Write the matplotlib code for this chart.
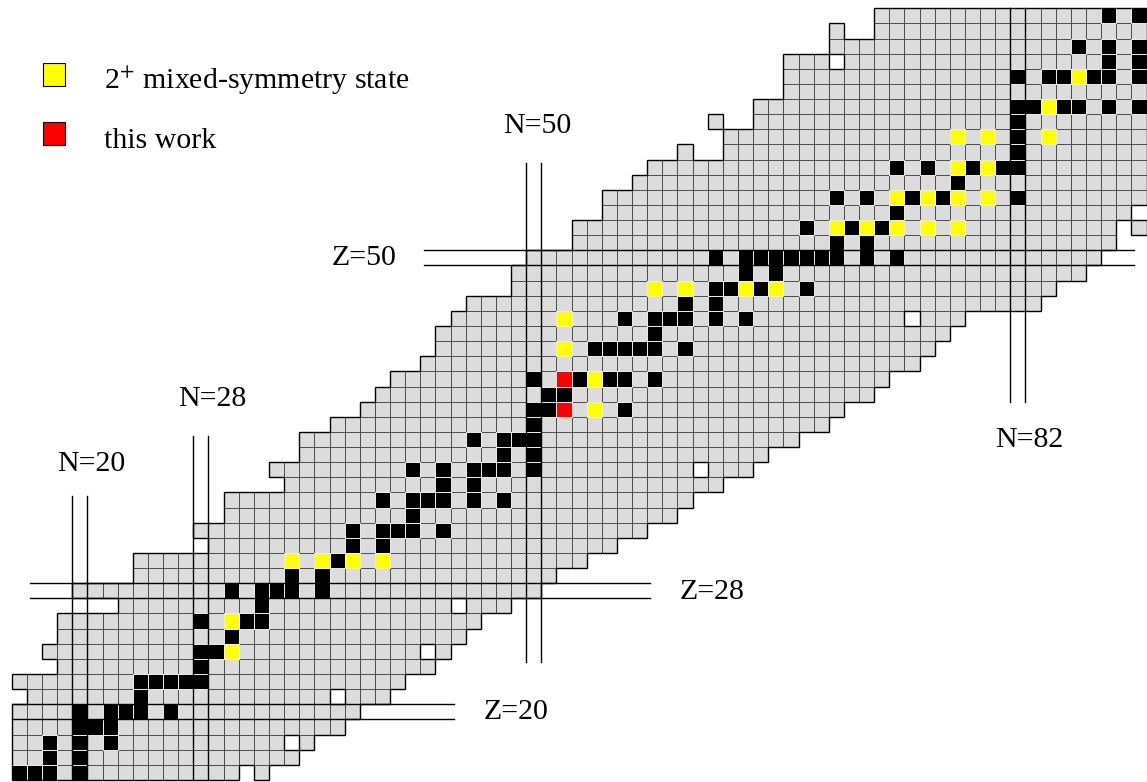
import matplotlib
matplotlib.use('Agg')
import matplotlib.pyplot as plt
from matplotlib.patches import Rectangle
from matplotlib.collections import PatchCollection, LineCollection

plt.rcParams['font.family'] = ['Liberation Serif', 'DejaVu Serif']
plt.rcParams['mathtext.fontset'] = 'stix'

# rows of the nuclide chart: proton number Z, first and last neutron number N
Z_rows = list(range(16, 67))
N_first = [16, 16, 16, 16, 16, 17, 16, 19, 18, 19, 19, 23, 20, 24, 24, 29, 28,
           30, 30, 34, 33, 35, 35, 37, 39, 40, 41, 43, 44, 44, 45, 46, 49, 49,
           50, 53, 53, 55, 55, 57, 58, 60, 63, 62, 65, 67, 67, 67, 70, 70, 73]
N_last = [32, 34, 35, 37, 38, 40, 41, 43, 44, 45, 46, 48, 50, 51, 53, 55, 57,
          59, 60, 62, 64, 65, 67, 69, 70, 72, 73, 75, 76, 77, 78, 83, 84, 86,
          87, 88, 90, 89, 90, 90, 90, 90, 90, 90, 90, 90, 90, 90, 90, 90, 90]
# (Z, N) cells missing inside a row
holes = [(16, 31), (18, 34), (21, 37), (24, 43), (27, 45), (36, 61), (46, 75),
         (52, 89), (57, 61), (57, 62), (59, 63), (59, 64), (63, 70), (65, 71),
         (65, 72)]

# stable nuclei (black), N values per Z
stable = {
    16: [16, 17, 18, 20], 17: [18, 20], 18: [18, 20, 22], 19: [20, 21, 22],
    20: [20, 22, 23, 24, 26], 21: [24], 22: [24, 25, 26, 27, 28], 23: [28],
    24: [28, 29], 25: [30], 26: [28, 31, 32], 27: [32],
    28: [30, 32, 33, 34, 36], 29: [34, 36], 30: [37], 31: [38, 40],
    32: [38, 40, 41, 42, 44], 33: [42], 34: [40, 42, 43, 44, 46, 48],
    35: [44, 46], 36: [42, 44, 46, 47, 48, 50], 37: [48, 50],
    38: [46, 48, 49, 50], 39: [50], 40: [50, 51, 56], 41: [51, 52],
    42: [50, 53, 55, 56, 58], 44: [54, 55, 56, 57, 58, 60], 45: [58],
    46: [56, 58, 59, 60, 62, 64], 47: [60, 62], 48: [62, 63, 65, 68],
    49: [64, 66], 50: [62, 64, 65, 66, 67, 68, 69, 70, 72, 74], 51: [70, 72],
    52: [68, 71, 73], 53: [74], 54: [70, 72, 75, 77, 82], 55: [78],
    56: [74, 76, 79, 81, 82], 57: [82], 58: [82], 59: [82],
    60: [82, 83, 85, 86, 88, 90], 62: [82, 84, 85, 87, 88, 90], 63: [88, 90],
    64: [86, 88, 90], 66: [88, 90],
}

# 2+ mixed-symmetry states (yellow) and this work (red), (Z, N)
mixed_symmetry = [(24, 30), (26, 30), (30, 34), (30, 36), (30, 38), (30, 40),
                  (40, 54), (42, 54), (44, 52), (46, 52), (48, 58), (48, 60),
                  (48, 64), (48, 66), (52, 70), (52, 72), (52, 74), (52, 76),
                  (52, 78), (54, 74), (54, 76), (54, 78), (54, 80), (56, 78),
                  (56, 80), (58, 78), (58, 80), (58, 84), (60, 84), (62, 86)]
this_work = [(40, 52), (42, 52)]

magic_N = [20, 28, 50, 82]
magic_Z = [20, 28, 50]

# ---- pixel <-> chart coordinates of the original picture ----
X0, Y0, S = 72.3, 719.4, 15.13


def px(x):
    return 20 + (x - X0) / S


def pz(y):
    return 20 + (Y0 - y) / S


fig = plt.figure(figsize=(11.47, 7.82), dpi=100)
ax = fig.add_axes([0, 0, 1, 1])
ax.set_xlim(px(0), px(1147))
ax.set_ylim(pz(782), pz(0))
ax.axis('off')

cells = set()
for Z, n0, n1 in zip(Z_rows, N_first, N_last):
    for N in range(n0, n1 + 1):
        if (Z, N) not in holes:
            cells.add((Z, N))

gray = [Rectangle((N, Z), 1, 1) for (Z, N) in sorted(cells)]
ax.add_collection(PatchCollection(gray, facecolor='#dcdcdc',
                                  edgecolor='#4d4d4d', linewidth=0.7))

black = [Rectangle((N, Z), 1, 1) for Z in stable for N in stable[Z]
         if (Z, N) not in mixed_symmetry and (Z, N) not in this_work]
ax.add_collection(PatchCollection(black, facecolor='black',
                                  edgecolor='#eeeeee', linewidth=0.7))
yel = [Rectangle((N, Z), 1, 1) for (Z, N) in mixed_symmetry]
ax.add_collection(PatchCollection(yel, facecolor='#ffff00',
                                  edgecolor='#eeeeee', linewidth=0.7))
red = [Rectangle((N, Z), 1, 1) for (Z, N) in this_work]
ax.add_collection(PatchCollection(red, facecolor='#ff0000',
                                  edgecolor='#eeeeee', linewidth=0.7))

# outer border of the chart
seg = []
for (Z, N) in cells:
    if (Z, N - 1) not in cells:
        seg.append([(N, Z), (N, Z + 1)])
    if (Z, N + 1) not in cells:
        seg.append([(N + 1, Z), (N + 1, Z + 1)])
    if (Z - 1, N) not in cells:
        seg.append([(N, Z), (N + 1, Z)])
    if (Z + 1, N) not in cells:
        seg.append([(N, Z + 1), (N + 1, Z + 1)])
ax.add_collection(LineCollection(seg, colors='black', linewidths=1.0))

# magic number double lines
n_span = {20: (pz(496), 16), 28: (pz(436), 16), 50: (pz(163), pz(662)),
          82: (67, pz(401.7))}
z_span = {20: (16, px(453.7)), 28: (px(30), px(650)), 50: (px(423.7), px(1133.7))}
for n in magic_N:
    for x in (n, n + 1):
        ax.plot([x, x], n_span[n], color='black', lw=1.0)
for z in magic_Z:
    for y in (z, z + 1):
        ax.plot(z_span[z], [y, y], color='black', lw=1.0)

fs = 21.5
labels = [('N=20', 57, 471), ('N=28', 178, 406.5), ('N=50', 503, 133),
          ('N=82', 995, 447.5), ('Z=50', 332, 265), ('Z=28', 680, 599),
          ('Z=20', 484, 719)]
for t, x, y in labels:
    ax.text(px(x), pz(y), t, fontsize=fs, ha='left', va='baseline')

# legend
ax.add_patch(Rectangle((px(43), pz(86)), 22 / S, 23 / S, facecolor='#ffff00',
                       edgecolor='black', lw=0.8))
ax.add_patch(Rectangle((px(43), pz(145)), 22 / S, 23 / S, facecolor='#ff0000',
                       edgecolor='black', lw=0.8))
ax.text(px(104), pz(89), r'2$^{+}$ mixed-symmetry state', fontsize=fs,
        ha='left', va='baseline')
ax.text(px(104), pz(148), 'this work', fontsize=fs, ha='left', va='baseline')

fig.savefig('out.png', dpi=100)
